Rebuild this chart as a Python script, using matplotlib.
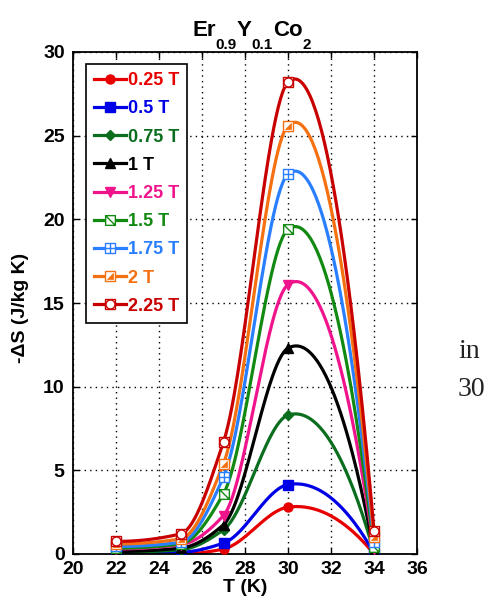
import numpy as np
import matplotlib.pyplot as plt
from matplotlib.path import Path
from matplotlib.legend_handler import HandlerTuple

NARROW = ['Liberation Sans Narrow', 'Liberation Sans', 'DejaVu Sans']
plt.rcParams['font.family'] = NARROW
plt.rcParams['font.weight'] = 'bold'

T = [22, 25, 27, 30, 34]
fields = ['0.25 T', '0.5 T', '0.75 T', '1 T', '1.25 T', '1.5 T', '1.75 T', '2 T', '2.25 T']
dS = [
    [0.0, -0.05, 0.3, 2.8, 0.0],
    [0.05, 0.1, 0.65, 4.15, 0.05],
    [0.1, 0.25, 1.45, 8.3, 0.1],
    [0.15, 0.35, 1.75, 12.3, 0.15],
    [0.3, 0.55, 2.3, 16.1, 0.3],
    [0.35, 0.6, 3.6, 19.4, 0.4],
    [0.45, 0.7, 4.6, 22.7, 0.7],
    [0.6, 0.9, 5.4, 25.6, 1.0],
    [0.75, 1.2, 6.7, 28.2, 1.4],
]
colors = ['#e80000', '#0000e6', '#0a6e1e', '#000000', '#f0148c',
          '#128a12', '#2a7fff', '#f57010', '#c80000']
title_parts = [('Er', False), ('0.9', True), ('Y', False), ('0.1', True), ('Co', False), ('2', True)]


def smooth(x, y, n=60):
    # cubic hermite through the points: monotone slopes where the data rise,
    # three-point slopes at the peak, so the curve tops out just after it
    x = np.asarray(x, float); y = np.asarray(y, float)
    h = np.diff(x); d = np.diff(y) / h
    k = len(x); m = np.zeros(k)
    for i in range(1, k - 1):
        if d[i - 1] * d[i] > 0:
            w1 = 2 * h[i] + h[i - 1]; w2 = h[i] + 2 * h[i - 1]
            m[i] = (w1 + w2) / (w1 / d[i - 1] + w2 / d[i])
        else:
            m[i] = (h[i] * d[i - 1] + h[i - 1] * d[i]) / (h[i - 1] + h[i])
    m[0] = 2 * d[0] - m[1]
    if m[0] * d[0] < 0:
        m[0] = 0
    m[-1] = 2 * d[-1] - m[-2]
    xs_all, ys_all = [], []
    for i in range(k - 1):
        t = np.linspace(0, 1, n)
        h00 = 2 * t**3 - 3 * t**2 + 1; h10 = t**3 - 2 * t**2 + t
        h01 = -2 * t**3 + 3 * t**2; h11 = t**3 - t**2
        xs_all.append(x[i] + t * h[i])
        ys_all.append(h00 * y[i] + h10 * h[i] * m[i] + h01 * y[i + 1] + h11 * h[i] * m[i + 1])
    return np.concatenate(xs_all), np.concatenate(ys_all)


sq = [(-1, -1), (1, -1), (1, 1), (-1, 1), (-1, -1)]
C = Path.CLOSEPOLY
sq_slash = Path(sq + [(-1, 1), (1, -1)],
                [Path.MOVETO, Path.LINETO, Path.LINETO, Path.LINETO, C, Path.MOVETO, Path.LINETO])
sq_plus = Path(sq + [(0, -1), (0, 1), (-1, 0), (1, 0)],
               [Path.MOVETO, Path.LINETO, Path.LINETO, Path.LINETO, C,
                Path.MOVETO, Path.LINETO, Path.MOVETO, Path.LINETO])
tri = Path([(1, 1), (1, -1), (-1, -1), (1, 1)], [Path.MOVETO, Path.LINETO, Path.LINETO, C])

fig = plt.figure(figsize=(4.91, 6.03), dpi=100)
ax = fig.add_axes([73 / 491, 1 - 554 / 603, 344 / 491, 502 / 603])

LW = 2.3
handles = []
for i, (lab, y, c) in enumerate(zip(fields, dS, colors)):
    xs, ys = smooth(T, y)
    ax.plot(xs, ys, color=c, lw=LW, zorder=2 + i * 0.01)
    kw = dict(ls='none', color=c, mec=c, zorder=5)
    if i == 0:
        h = (ax.plot(T, y, marker='o', mfc=c, ms=6.5, **kw)[0],)
    elif i == 1:
        h = (ax.plot(T, y, marker='s', mfc=c, ms=6.5, **kw)[0],)
    elif i == 2:
        h = (ax.plot(T, y, marker='D', mfc=c, ms=5.5, **kw)[0],)
    elif i == 3:
        h = (ax.plot(T, y, marker='^', mfc=c, ms=7.5, **kw)[0],)
    elif i == 4:
        h = (ax.plot(T, y, marker='v', mfc=c, ms=7.5, **kw)[0],)
    elif i == 5:
        h = (ax.plot(T, y, marker=sq_slash, mfc='white', mew=1, ms=7, **kw)[0],)
    elif i == 6:
        h = (ax.plot(T, y, marker=sq_plus, mfc='white', mew=1, ms=7, **kw)[0],)
    elif i == 7:
        h1 = ax.plot(T, y, marker='s', mfc='white', mew=1, ms=6.5, **kw)[0]
        h2 = ax.plot(T, y, marker=tri, mfc=c, mew=0.5, ms=5, **kw)[0]
        h = (h1, h2)
    else:
        h1 = ax.plot(T, y, marker='s', mfc='white', mew=1, ms=7, **kw)[0]
        h2 = ax.plot(T, y, marker='o', mfc='white', mew=1, ms=6.5, **kw)[0]
        h = (h1, h2)
    handles.append((plt.Line2D([], [], color=c, lw=LW),) + h)

ax.set_xlim(20, 36)
ax.set_ylim(0, 30)
ax.set_xticks(np.arange(20, 37, 2))
ax.set_yticks(np.arange(0, 31, 5))
ax.grid(True, ls=(0, (1, 3)), color='black', lw=1)
ax.tick_params(direction='in', top=True, right=True, length=4, width=1, labelsize=14)
ax.tick_params(axis='x', pad=5)
ax.tick_params(axis='y', pad=6)
for s in ax.spines.values():
    s.set_linewidth(1.3)
for t in ax.get_xticklabels() + ax.get_yticklabels():
    t.set_fontweight('bold')

ax.set_xlabel('T (K)', fontsize=14, fontweight='bold', labelpad=1)
fig.text(21 / 491, 1 - 308 / 603, '-ΔS (J/kg K)', rotation=90, ha='center', va='center',
         fontsize=14, fontweight='bold', family=['Liberation Sans', 'DejaVu Sans'])

# title with large, low subscripts as in the original
renderer = fig.canvas.get_renderer()
px = 192
for s, sub in title_parts:
    t = fig.text(px / 491, 1 - (49 if sub else 36) / 603, s, fontsize=11 if sub else 16,
                 fontweight='bold', ha='left', va='baseline')
    px += t.get_window_extent(renderer).width

leg = ax.legend(handles, fields, handler_map={tuple: HandlerTuple(ndivide=1)},
                loc='upper left', bbox_to_anchor=(0.038, 0.976), fontsize=13,
                handlelength=1.75, handletextpad=0.1, borderpad=0.45, labelspacing=0.62,
                borderaxespad=0, frameon=True, fancybox=False, edgecolor='black', framealpha=1)
leg.get_frame().set_linewidth(1.2)
for txt, c in zip(leg.get_texts(), colors):
    txt.set_color(c)
    txt.set_fontweight('bold')

fig.text(458 / 491, 1 - 352 / 603, 'in', family='Liberation Serif', fontsize=20,
         fontweight='normal', color='#222222', va='center')
fig.text(458 / 491, 1 - 390 / 603, '30', family='Liberation Serif', fontsize=20,
         fontweight='normal', color='#222222', va='center')

fig.savefig('out.png', dpi=100)
